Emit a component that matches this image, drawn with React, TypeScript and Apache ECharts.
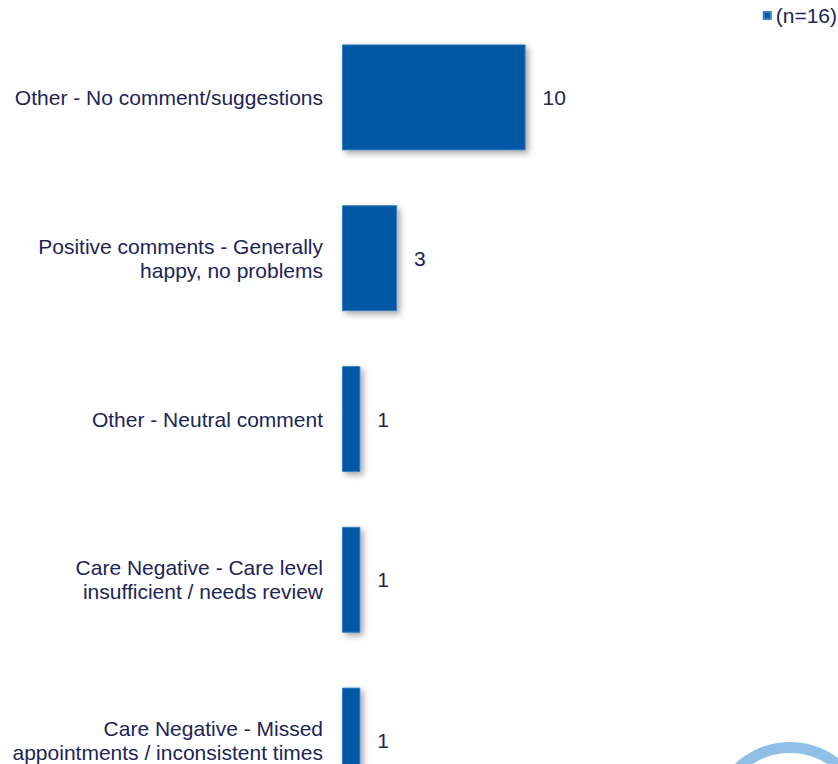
import React, { useEffect, useRef } from "react";
import * as echarts from "echarts";

const categories: string[] = [
  "Other - No comment/suggestions",
  "Positive comments - Generally\nhappy, no problems",
  "Other - Neutral comment",
  "Care Negative - Care level\ninsufficient / needs review",
  "Care Negative - Missed\nappointments / inconsistent times",
];
const values: number[] = [10, 3, 1, 1, 1];
const seriesName = "(n=16)";

export default function App() {
  const ref = useRef<HTMLDivElement>(null);
  useEffect(() => {
    if (!ref.current) return;
    const chart = echarts.init(ref.current, null, { renderer: "svg" });
    const textColor = "#1c2556";
    const font = "Liberation Sans, Arial, sans-serif";
    chart.setOption({
      animation: false,
      backgroundColor: "#ffffff",
      textStyle: { fontFamily: font },
      legend: {
        data: [seriesName],
        right: 1,
        top: 5,
        padding: 0,
        icon: "rect",
        itemWidth: 7,
        itemHeight: 7,
        itemGap: 6,
        textStyle: { color: textColor, fontSize: 21, fontFamily: font, padding: [0, 0, 0, 0] },
      },
      grid: { left: 342, top: 17, width: 459, height: 804, containLabel: false },
      xAxis: {
        type: "value",
        min: 0,
        max: 25,
        show: false,
      },
      yAxis: {
        type: "category",
        inverse: true,
        data: categories,
        axisLine: { show: false },
        axisTick: { show: false },
        splitLine: { show: false },
        axisLabel: {
          color: textColor,
          fontSize: 21,
          fontFamily: font,
          margin: 19,
          lineHeight: 24,
          align: "right",
        },
      },
      series: [
        {
          name: seriesName,
          type: "bar",
          data: values,
          barWidth: 106,
          itemStyle: {
            color: "#0059a4",
            borderColor: "#3d7fc1",
            borderWidth: 1,
            shadowColor: "rgba(0,0,0,0.35)",
            shadowBlur: 6,
            shadowOffsetX: 3,
            shadowOffsetY: 3,
          },
          label: {
            show: true,
            position: "right",
            distance: 17,
            color: textColor,
            fontSize: 21,
            fontFamily: font,
          },
        },
      ],
      graphic: [
        {
          type: "ring",
          shape: { cx: 790, cy: 822, r: 80, r0: 69 },
          style: { fill: "#8fbfe7" },
          silent: true,
        },
      ],
    });
    return () => chart.dispose();
  }, []);
  return (
    <div
      style={{
        position: "absolute",
        left: 0,
        top: 0,
        width: 838,
        height: 764,
        overflow: "hidden",
      }}
    >
      <div ref={ref} style={{ width: 838, height: 840 }} />
    </div>
  );
}
